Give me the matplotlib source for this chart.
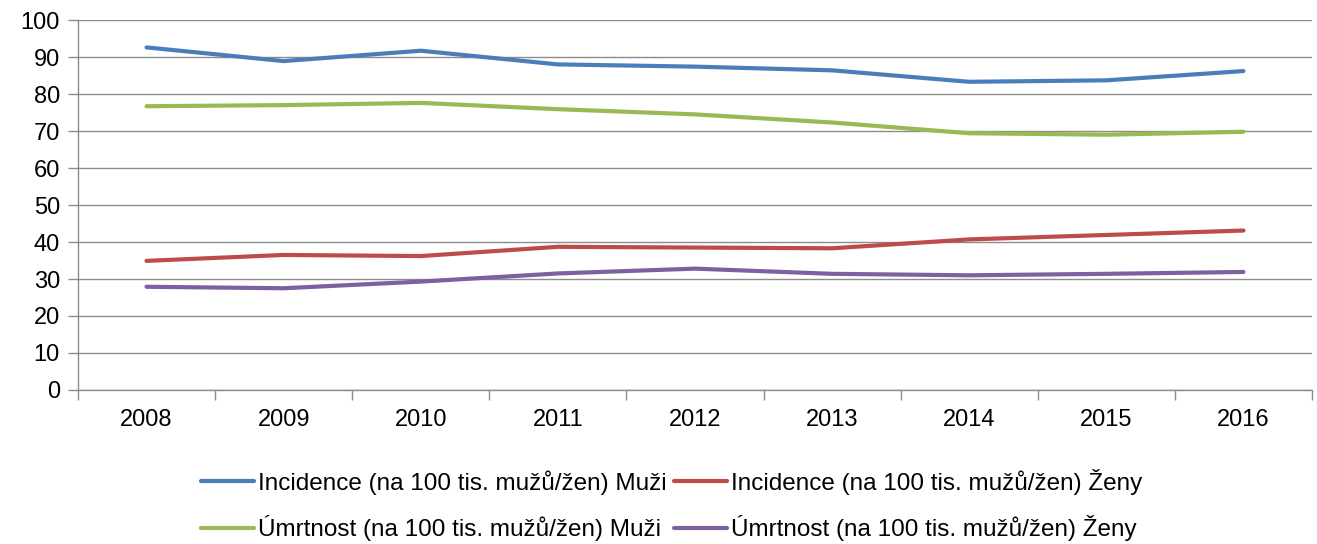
import numpy as np
import matplotlib
matplotlib.use("Agg")
import matplotlib.pyplot as plt

plt.rcParams['font.family'] = ['Liberation Sans', 'DejaVu Sans']

# data
years = ['2008', '2009', '2010', '2011', '2012', '2013', '2014', '2015', '2016']
incidence_muzi = [92.6, 88.9, 91.7, 88.0, 87.4, 86.4, 83.3, 83.7, 86.2]
incidence_zeny = [34.9, 36.5, 36.2, 38.7, 38.5, 38.3, 40.7, 41.9, 43.1]
umrtnost_muzi = [76.7, 77.0, 77.6, 75.9, 74.5, 72.3, 69.4, 69.0, 69.8]
umrtnost_zeny = [27.9, 27.5, 29.3, 31.5, 32.8, 31.4, 31.0, 31.4, 31.9]

labels = ['Incidence (na 100 tis. mužů/žen) Muži',
          'Incidence (na 100 tis. mužů/žen) Ženy',
          'Úmrtnost (na 100 tis. mužů/žen) Muži',
          'Úmrtnost (na 100 tis. mužů/žen) Ženy']
colors = ['#4a7ebb', '#be4b48', '#98b954', '#7d60a0']
series = [incidence_muzi, incidence_zeny, umrtnost_muzi, umrtnost_zeny]

fig = plt.figure(figsize=(13.17, 5.44), dpi=100)
ax = fig.add_axes([0.0592, 0.2831, 0.9370, 0.6801])

x = np.arange(len(years))
handles = []
for vals, col, lab in zip(series, colors, labels):
    h, = ax.plot(x, vals, color=col, lw=3, label=lab, solid_capstyle='round',
                 solid_joinstyle='round')
    handles.append(h)

ax.set_xlim(-0.5, len(years) - 0.5)
ax.set_ylim(0, 100)
ax.set_yticks(np.arange(0, 101, 10))
ax.yaxis.grid(True, color='#8c8c8c', lw=1)
ax.set_axisbelow(True)

ax.set_xticks(x)
ax.set_xticklabels(years)
ax.set_xticks(np.arange(-0.5, len(years), 1), minor=True)
ax.tick_params(axis='x', which='major', length=0, pad=14, labelsize=17)
ax.tick_params(axis='x', which='minor', length=7, color='#8c8c8c', width=1)
ax.tick_params(axis='y', length=7, color='#8c8c8c', width=1, pad=6, labelsize=17)

for side in ['top', 'right']:
    ax.spines[side].set_visible(False)
for side in ['left', 'bottom']:
    ax.spines[side].set_color('#8c8c8c')
    ax.spines[side].set_linewidth(1)

# matplotlib fills legend columns first; reorder so row 1 = incidence
order = [0, 2, 1, 3]
fig.legend(handles=[handles[i] for i in order], labels=[labels[i] for i in order],
           ncol=2, loc='lower center', bbox_to_anchor=(0.51, -0.035), frameon=False,
           fontsize=17.5, handlelength=2.2, handletextpad=0.15, columnspacing=0.3,
           labelspacing=0.85)

fig.savefig('out.png', dpi=100)
